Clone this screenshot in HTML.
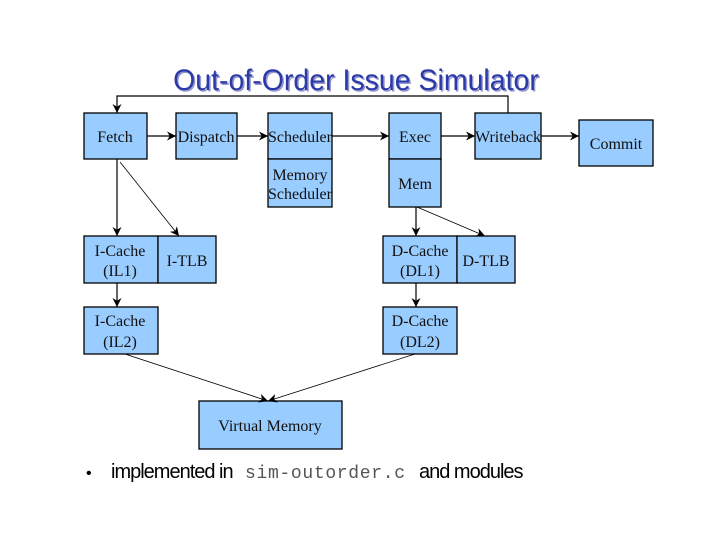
<!DOCTYPE html>
<html><head><meta charset="utf-8"><style>
html,body{margin:0;padding:0;background:#fff}
svg{display:block}
.b{fill:#99ccff;stroke:#000;stroke-width:1.3}
.t{font-family:"Liberation Serif",serif;font-size:16px;fill:#111;text-anchor:middle}
.l{stroke:#000;stroke-width:1.2;fill:none}
.d{stroke:#000;stroke-width:0.8;fill:none}
</style></head><body>
<svg width="720" height="540" viewBox="0 0 720 540" xmlns="http://www.w3.org/2000/svg">
<defs><marker id="a" viewBox="0 0 10 10" refX="10" refY="5" markerWidth="9" markerHeight="9" orient="auto" markerUnits="userSpaceOnUse"><path d="M0,0 L10,5 L0,10 L3,5 z" fill="#000"/></marker></defs>
<text x="356" y="90" font-family="Liberation Sans,sans-serif" font-size="30" fill="#9999cc" text-anchor="middle" transform="translate(356,0) scale(0.95,1) translate(-356,0)" dx="1.5" dy="1.5">Out-of-Order Issue Simulator</text>
<text x="356" y="90" font-family="Liberation Sans,sans-serif" font-size="30" fill="#2a3aa8" text-anchor="middle" transform="translate(356,0) scale(0.95,1) translate(-356,0)">Out-of-Order Issue Simulator</text>
<rect class="b" x="84" y="113" width="63" height="46"/><text class="t" x="115" y="142">Fetch</text>
<rect class="b" x="176" y="113" width="61" height="46"/><text class="t" x="206" y="142">Dispatch</text>
<rect class="b" x="268" y="113" width="64" height="46"/><text class="t" x="300" y="142">Scheduler</text>
<rect class="b" x="268" y="159" width="64" height="48"/><text class="t" x="300" y="180">Memory</text><text class="t" x="300" y="199">Scheduler</text>
<rect class="b" x="389" y="113" width="52" height="46"/><text class="t" x="415" y="142">Exec</text>
<rect class="b" x="389" y="159" width="52" height="48"/><text class="t" x="415" y="189">Mem</text>
<rect class="b" x="475" y="113" width="66" height="46"/><text class="t" x="508" y="142">Writeback</text>
<rect class="b" x="579" y="120" width="74" height="46"/><text class="t" x="616" y="149">Commit</text>
<rect class="b" x="84" y="236" width="74" height="47"/><text class="t" x="120" y="256">I-Cache</text><text class="t" x="120" y="276">(IL1)</text>
<rect class="b" x="158" y="236" width="58" height="47"/><text class="t" x="187" y="266">I-TLB</text>
<rect class="b" x="84" y="307" width="74" height="47"/><text class="t" x="120" y="326">I-Cache</text><text class="t" x="120" y="347">(IL2)</text>
<rect class="b" x="383" y="236" width="74" height="47"/><text class="t" x="420" y="256">D-Cache</text><text class="t" x="420" y="276">(DL1)</text>
<rect class="b" x="457" y="236" width="58" height="47"/><text class="t" x="486" y="266">D-TLB</text>
<rect class="b" x="383" y="307" width="74" height="47"/><text class="t" x="420" y="326">D-Cache</text><text class="t" x="420" y="347">(DL2)</text>
<rect class="b" x="199" y="401" width="143" height="48"/><text class="t" x="270" y="431">Virtual Memory</text>
<path class="l" d="M508,113 V96 H117 V113" marker-end="url(#a)"/>
<line class="l" x1="147" y1="136" x2="176" y2="136" marker-end="url(#a)"/>
<line class="l" x1="237" y1="136" x2="268" y2="136" marker-end="url(#a)"/>
<line class="l" x1="332" y1="136" x2="389" y2="136" marker-end="url(#a)"/>
<line class="l" x1="441" y1="136" x2="475" y2="136" marker-end="url(#a)"/>
<line class="l" x1="541" y1="136" x2="579" y2="136" marker-end="url(#a)"/>
<line class="l" x1="117" y1="159" x2="117" y2="236" marker-end="url(#a)"/>
<line class="d" x1="120" y1="162" x2="179" y2="236" marker-end="url(#a)"/>
<line class="l" x1="117" y1="283" x2="117" y2="307" marker-end="url(#a)"/>
<line class="l" x1="416" y1="207" x2="416" y2="236" marker-end="url(#a)"/>
<line class="d" x1="417" y1="207" x2="485" y2="236" marker-end="url(#a)"/>
<line class="l" x1="416" y1="283" x2="416" y2="307" marker-end="url(#a)"/>
<line class="d" x1="125" y1="354" x2="268" y2="401" marker-end="url(#a)"/>
<line class="d" x1="415" y1="354" x2="268" y2="401" marker-end="url(#a)"/>
<text x="86" y="478" font-family="Liberation Sans,sans-serif" font-size="16">•</text>
<text x="111" y="478" font-family="Liberation Sans,sans-serif" font-size="20" letter-spacing="-1">implemented in</text>
<text x="245" y="478" font-family="Liberation Mono,monospace" font-size="18" fill="#555" textLength="160">sim-outorder.c</text>
<text x="419" y="478" font-family="Liberation Sans,sans-serif" font-size="20" letter-spacing="-1">and modules</text>
</svg>
</body></html>
